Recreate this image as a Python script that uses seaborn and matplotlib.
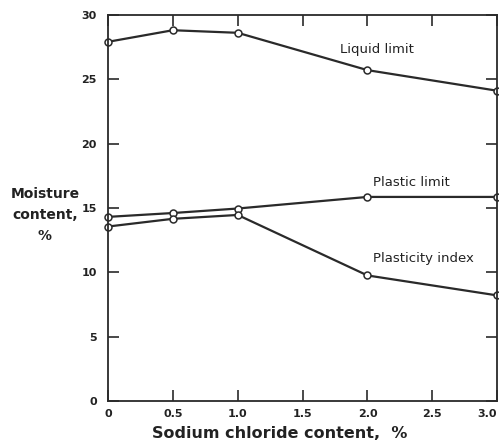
import pandas as pd
import matplotlib
matplotlib.use("Agg")
import matplotlib.pyplot as plt
import seaborn as sns

# Values
salt = [0, 0.5, 1.0, 2.0, 3.0]
liquid_limit = [27.9, 28.8, 28.6, 25.7, 24.1]
plastic_limit = [14.3, 14.6, 14.95, 15.85, 15.85]
plasticity_index = [13.55, 14.15, 14.45, 9.75, 8.2]

x_ticks = [0, 0.5, 1.0, 1.5, 2.0, 2.5, 3.0]
x_labels = ["0", "0.5", "1.0", "1.5", "2.0", "2.5", "3.0"]
y_ticks = [0, 5, 10, 15, 20, 25, 30]

df = pd.DataFrame({
    "salt": salt * 3,
    "moisture": liquid_limit + plastic_limit + plasticity_index,
    "series": ["Liquid limit"] * 5 + ["Plastic limit"] * 5 + ["Plasticity index"] * 5,
})

sns.set_style("ticks")
plt.rcParams["font.family"] = ["DejaVu Sans"]

fig = plt.figure(figsize=(4.99, 4.48), dpi=100)
ax = fig.add_axes([0.2164, 0.105, 0.78, 0.862])

sns.lineplot(data=df, x="salt", y="moisture", hue="series",
             palette=["#2a2a2a"] * 3, marker="o", markersize=5,
             markerfacecolor="white", markeredgecolor="#2a2a2a",
             markeredgewidth=1.1, linewidth=1.6, legend=False, ax=ax,
             clip_on=False)

ax.set_xlim(0, 3.0)
ax.set_ylim(0, 30)
ax.set_xticks(x_ticks)
ax.set_xticklabels(x_labels)
ax.set_yticks(y_ticks)

for s in ax.spines.values():
    s.set_linewidth(1.3)
    s.set_color("#2a2a2a")
    s.set_visible(True)

ax.tick_params(direction="in", length=8, width=1.2, color="#2a2a2a",
               top=True, right=True, labelsize=8, labelcolor="#222222")
ax.tick_params(axis="y", pad=8)
ax.tick_params(axis="x", pad=6)
# last x label sits inside the figure edge, as in the scan
ax.get_xticklabels()[-1].set_horizontalalignment("right")
for lab in ax.get_xticklabels() + ax.get_yticklabels():
    lab.set_fontweight("bold")

ax.set_xlabel("Sodium chloride content,  %", fontsize=11.5, fontweight="bold",
              color="#222222")
ax.xaxis.set_label_coords(0.44, -0.065)
ax.set_ylabel("")
fig.text(0.09, 0.52, "Moisture\ncontent,\n%", ha="center", va="center",
         fontsize=10, fontweight="bold", color="#222222", linespacing=1.6)

ax.text(1.79, 27.3, "Liquid limit", fontsize=9.5, color="#222222", va="center")
ax.text(2.04, 17.0, "Plastic limit", fontsize=9.5, color="#222222", va="center")
ax.text(2.04, 11.1, "Plasticity index", fontsize=9.5, color="#222222", va="center")

fig.savefig("out.png", dpi=100)
